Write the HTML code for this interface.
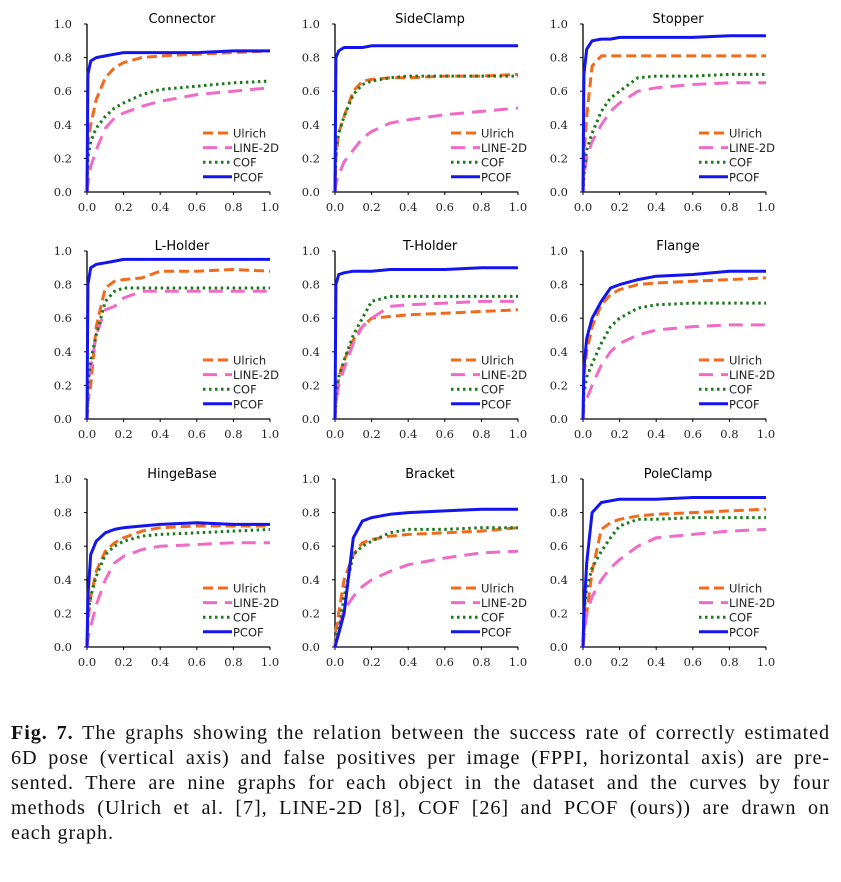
<!DOCTYPE html>
<html><head><meta charset="utf-8"><style>
html,body{margin:0;padding:0;background:#fff;width:841px;height:882px;overflow:hidden}
svg{position:absolute;left:0;top:0}
#cap{position:absolute;left:11px;top:721px;width:819px;font-family:"Liberation Serif",serif;font-size:20.2px;line-height:25px;color:#111;margin:0;letter-spacing:0.9px}
#cap span{display:block;text-align:justify;text-align-last:justify;white-space:nowrap}
#cap span.last{text-align-last:left}
</style></head><body>
<svg id="chart" width="841" height="720"></svg>
<p id="cap"><span><b>Fig. 7.</b> The graphs showing the relation between the success rate of correctly estimated</span><span>6D pose (vertical axis) and false positives per image (FPPI, horizontal axis) are pre-</span><span>sented. There are nine graphs for each object in the dataset and the curves by four</span><span>methods (Ulrich et al. [7], LINE-2D [8], COF [26] and PCOF (ours)) are drawn on</span><span class="last">each graph.</span></p>
<script>
const titles=["Connector","SideClamp","Stopper","L-Holder","T-Holder","Flange","HingeBase","Bracket","PoleClamp"];
const xs=[0,0.005,0.02,0.05,0.1,0.15,0.2,0.3,0.4,0.6,0.8,1.0];
const ulrich=[
[0,.3,.4,.55,.68,.74,.77,.80,.81,.82,.83,.84],
[0,.2,.35,.45,.6,.66,.67,.68,.68,.69,.69,.70],
[0,.2,.45,.75,.81,.81,.81,.81,.81,.81,.81,.81],
[0,.1,.2,.55,.78,.82,.83,.84,.88,.88,.89,.88],
[0,.1,.25,.35,.47,.55,.6,.61,.62,.63,.64,.65],
[0,.25,.4,.55,.68,.74,.77,.8,.81,.82,.83,.84],
[0,.15,.3,.45,.57,.62,.65,.69,.71,.72,.72,.72],
[0,.1,.2,.4,.55,.62,.64,.66,.67,.68,.69,.71],
[0,.1,.2,.45,.7,.74,.76,.78,.79,.8,.81,.82]];
const line2d=[
[0,.05,.15,.25,.38,.44,.47,.51,.54,.58,.6,.62],
[0,.05,.1,.18,.25,.32,.36,.41,.43,.46,.48,.50],
[0,.1,.2,.3,.4,.48,.53,.6,.62,.64,.65,.65],
[0,.2,.3,.5,.65,.67,.72,.76,.76,.76,.76,.76],
[0,.1,.2,.3,.45,.55,.6,.67,.68,.69,.7,.7],
[0,.08,.12,.2,.32,.4,.45,.5,.53,.55,.56,.56],
[0,.05,.12,.25,.4,.5,.54,.58,.6,.61,.62,.62],
[0,.05,.12,.22,.3,.36,.4,.45,.49,.53,.56,.57],
[0,.05,.2,.3,.4,.47,.52,.6,.65,.67,.69,.70]];
const cof=[
[0,.2,.3,.38,.45,.5,.53,.58,.61,.63,.65,.66],
[0,.25,.35,.45,.58,.64,.66,.68,.69,.69,.69,.69],
[0,.1,.25,.35,.48,.56,.6,.68,.69,.69,.70,.70],
[0,.2,.35,.5,.7,.76,.78,.78,.78,.78,.78,.78],
[0,.15,.25,.35,.5,.6,.7,.73,.73,.73,.73,.73],
[0,.15,.25,.33,.45,.55,.6,.66,.68,.69,.69,.69],
[0,.2,.3,.42,.55,.6,.63,.66,.67,.68,.69,.70],
[0,.05,.1,.3,.55,.6,.63,.68,.7,.7,.71,.71],
[0,.2,.35,.47,.57,.65,.72,.76,.76,.77,.77,.77]];
const pcof=[
[0,.7,.78,.8,.81,.82,.83,.83,.83,.83,.84,.84],
[0,.8,.84,.86,.86,.86,.87,.87,.87,.87,.87,.87],
[0,.7,.85,.9,.91,.91,.92,.92,.92,.92,.93,.93],
[0,.8,.9,.92,.93,.94,.95,.95,.95,.95,.95,.95],
[0,.8,.86,.87,.88,.88,.88,.89,.89,.89,.9,.9],
[0,.3,.48,.6,.7,.78,.8,.83,.85,.86,.88,.88],
[0,.3,.55,.63,.68,.70,.71,.72,.73,.74,.73,.73],
[0,.02,.08,.2,.65,.75,.77,.79,.8,.81,.82,.82],
[0,.2,.5,.8,.86,.87,.88,.88,.88,.89,.89,.89]];
const ticks=["0.0","0.2","0.4","0.6","0.8","1.0"];
const seriesNames=["Ulrich","LINE-2D","COF","PCOF"];
const NS="http://www.w3.org/2000/svg";
const svg=document.getElementById('chart');
const colX=[87,335,583], rowY=[24,251,479], W=183, H=168;
const styles=[{c:"#f26b1d",d:"10,5"},{c:"#f06ac8",d:"14,8"},{c:"#1a7a1a",d:"2.5,3.5"},{c:"#1414ee",d:""}];
function mk(tag,attrs,parent){const e=document.createElementNS(NS,tag);for(const k in attrs)e.setAttribute(k,attrs[k]);(parent||svg).appendChild(e);return e;}
const allData=[ulrich,line2d,cof,pcof];
titles.forEach((t,i)=>{
  const x0=colX[i%3], y1=rowY[Math.floor(i/3)], y0=y1+H;
  const sx=v=>x0+v*W, sy=v=>y0-v*H;
  const g=mk('g',{});
  
  
  const tt=mk('text',{x:x0+95,y:y1-1,'text-anchor':'middle','font-family':'DejaVu Sans, sans-serif','font-size':'13'},g);
  tt.textContent=t;
  
  
  ticks.forEach((lab,k)=>{
    const v=k/5;
    const yl=mk('text',{x:x0-15,y:sy(v)+4,'text-anchor':'end','font-family':'DejaVu Serif, serif','font-size':'11.5',fill:'#222'},g);
    yl.textContent=lab;
    
    
    const xl=mk('text',{x:sx(v),y:y0+19,'text-anchor':'middle','font-family':'DejaVu Serif, serif','font-size':'11.5',fill:'#222'},g);
    xl.textContent=lab;
    
    
    mk('line',{x1:x0-3,x2:x0,y1:sy(v),y2:sy(v),stroke:'#000','stroke-width':1},g);
    mk('line',{x1:sx(v),x2:sx(v),y1:y0,y2:y0+3,stroke:'#000','stroke-width':1},g);
  });
  const ya=mk('line',{x1:x0,x2:x0,y1:y1,y2:y0,stroke:'#000','stroke-width':1.3},g);
  
  
  const xa=mk('line',{x1:x0,x2:x0+W,y1:y0,y2:y0,stroke:'#000','stroke-width':1.3},g);
  
  
  allData.forEach((arr,s)=>{
    const pts=xs.map((xv,k)=>sx(xv).toFixed(1)+','+sy(arr[i][k]).toFixed(1)).join(' ');
    const pl=mk('polyline',{points:pts,fill:'none',stroke:styles[s].c,'stroke-width':3,'stroke-dasharray':styles[s].d,'stroke-linejoin':'round'},g);
    
    
    const ly=y1+109+s*14.6;
    const ll=mk('line',{x1:x0+116,x2:x0+145,y1:ly,y2:ly,stroke:styles[s].c,'stroke-width':3,'stroke-dasharray':styles[s].d},g);
    
    
    const lt=mk('text',{x:x0+146,y:ly+4.5,'font-family':'DejaVu Sans, sans-serif','font-size':'11.5',fill:'#222'},g);
    lt.textContent=seriesNames[s];
    
    
  });
});
</script>
</body></html>
